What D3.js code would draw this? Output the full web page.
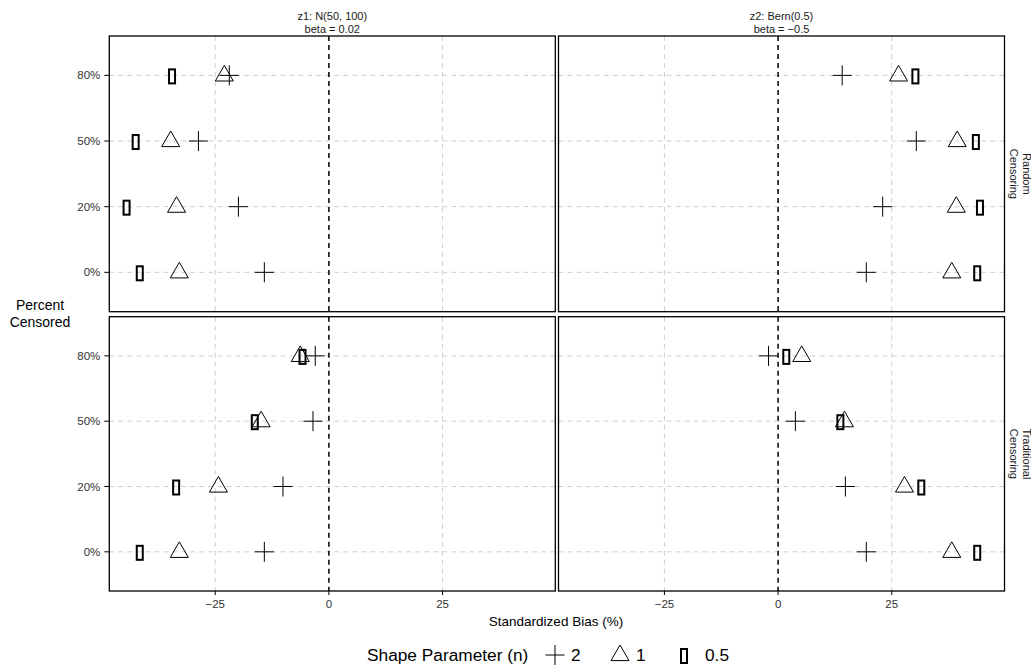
<!DOCTYPE html>
<html>
<head>
<meta charset="utf-8">
<script src="https://cdn.jsdelivr.net/npm/d3@7"></script>
<style>
  body { margin: 0; background: #fff; }
  svg { display: block; font-family: "Liberation Sans", Arial, sans-serif; }
</style>
</head>
<body>
<div id="chart"></div>
<script>
// Categories
const censorLevels = ["80%", "50%", "20%", "0%"];
const covariates = [
  ["z1: N(50, 100)", "beta = 0.02"],
  ["z2: Bern(0.5)", "beta = \u22120.5"]
];
const censorTypes = [["Random", "Censoring"], ["Traditional", "Censoring"]];
const shapeLevels = ["2", "1", "0.5"];
const xTicks = [-25, 0, 25];

// Standardized bias (%), order: 0%, 20%, 50%, 80%
const z1RandomN2 = [-14.2, -19.9, -28.7, -21.9];
const z1RandomN1 = [-32.9, -33.5, -34.8, -23.0];
const z1RandomN05 = [-41.6, -44.5, -42.5, -34.5];
const z1TradN2 = [-14.2, -10.1, -3.5, -3.0];
const z1TradN1 = [-32.9, -24.3, -14.9, -6.3];
const z1TradN05 = [-41.6, -33.6, -16.3, -5.8];
const z2RandomN2 = [19.4, 23.0, 30.4, 14.1];
const z2RandomN1 = [38.2, 39.2, 39.4, 26.5];
const z2RandomN05 = [43.8, 44.4, 43.5, 30.2];
const z2TradN2 = [19.4, 14.8, 3.8, -2.1];
const z2TradN1 = [38.2, 27.8, 14.6, 5.2];
const z2TradN05 = [43.8, 31.5, 13.7, 1.8];

const valueOrder = ["0%", "20%", "50%", "80%"];
const panelSeries = [
  [[z1RandomN2, z1RandomN1, z1RandomN05], [z2RandomN2, z2RandomN1, z2RandomN05]],
  [[z1TradN2, z1TradN1, z1TradN05], [z2TradN2, z2TradN1, z2TradN05]]
];

const W = 1031, H = 669;
const svg = d3.select('#chart').append('svg').attr('width', W).attr('height', H);

const panelW = 446;
const colX = [109.3, 558.5];
const rowY = [[36, 311.7], [316.7, 591]];

const x = d3.scaleLinear().domain([-48.3, 49.8]).range([0, panelW]);
const fmt = d => d < 0 ? '\u2212' + Math.abs(d) : String(d);

// marker shapes
function drawShape(sel, shape) {
  if (shape === '2') {
    sel.append('path').attr('d', 'M-9.5,0H9.5M0,-10V10')
      .attr('stroke', '#000').attr('stroke-width', 1).attr('fill', 'none');
  } else if (shape === '1') {
    sel.append('path').attr('d', 'M0,-10L9,5.6L-9,5.6Z')
      .attr('stroke', '#000').attr('stroke-width', 1).attr('fill', 'none');
  } else {
    sel.append('rect').attr('x', -3).attr('y', -6).attr('width', 6).attr('height', 14)
      .attr('stroke', '#000').attr('stroke-width', 2).attr('fill', 'none');
  }
}

rowY.forEach((ry, ri) => {
  const y = d3.scalePoint().domain(censorLevels).range(ry).padding(0.6);
  colX.forEach((cx, ci) => {
    const g = svg.append('g').attr('transform', `translate(${cx},0)`);

    // grid
    g.selectAll('.vg').data(xTicks.filter(t => t !== 0)).join('line')
      .attr('x1', d => x(d)).attr('x2', d => x(d))
      .attr('y1', ry[0]).attr('y2', ry[1])
      .attr('stroke', '#cfcfcf').attr('stroke-width', 1).attr('stroke-dasharray', '5,4');
    g.selectAll('.hg').data(censorLevels).join('line')
      .attr('x1', 0).attr('x2', panelW)
      .attr('y1', d => y(d)).attr('y2', d => y(d))
      .attr('stroke', '#cfcfcf').attr('stroke-width', 1).attr('stroke-dasharray', '5,4');

    // zero line
    g.append('line')
      .attr('x1', x(0)).attr('x2', x(0)).attr('y1', ry[0]).attr('y2', ry[1])
      .attr('stroke', '#000').attr('stroke-width', 1.5).attr('stroke-dasharray', '5,4');

    // points
    const rows = [];
    panelSeries[ri][ci].forEach((vals, si) => {
      vals.forEach((v, k) => rows.push({ shape: shapeLevels[si], level: valueOrder[k], value: v }));
    });
    g.selectAll('.pt').data(rows).join('g')
      .attr('transform', d => `translate(${x(d.value)},${y(d.level)})`)
      .each(function(d) { drawShape(d3.select(this), d.shape); });

    // border
    g.append('rect').attr('x', 0).attr('y', ry[0]).attr('width', panelW).attr('height', ry[1] - ry[0])
      .attr('fill', 'none').attr('stroke', '#000').attr('stroke-width', 1.3);

    // y axis on left column
    if (ci === 0) {
      const ya = g.append('g');
      censorLevels.forEach(l => {
        ya.append('line').attr('x1', -5).attr('x2', 0).attr('y1', y(l)).attr('y2', y(l))
          .attr('stroke', '#000').attr('stroke-width', 1);
        ya.append('text').attr('x', -9).attr('y', y(l)).attr('dy', '0.35em')
          .attr('text-anchor', 'end').attr('font-size', 11.5).attr('fill', '#333').text(l);
      });
    }
    // x axis on bottom row
    if (ri === 1) {
      xTicks.forEach(t => {
        g.append('line').attr('x1', x(t)).attr('x2', x(t)).attr('y1', ry[1]).attr('y2', ry[1] + 4)
          .attr('stroke', '#000').attr('stroke-width', 1);
        g.append('text').attr('x', x(t)).attr('y', ry[1] + 16.5)
          .attr('text-anchor', 'middle').attr('font-size', 11.5).attr('fill', '#333').text(fmt(t));
      });
    }
    // column strips
    if (ri === 0) {
      covariates[ci].forEach((s, k) => {
        g.append('text').attr('x', panelW / 2).attr('y', 20 + k * 13)
          .attr('text-anchor', 'middle').attr('font-size', 11).attr('fill', '#1a1a1a').text(s);
      });
    }
    // row strips
    if (ci === 1) {
      const cy = (ry[0] + ry[1]) / 2;
      const st = g.append('text')
        .attr('transform', `translate(${panelW + 9},${cy}) rotate(90)`)
        .attr('text-anchor', 'middle').attr('font-size', 11).attr('fill', '#1a1a1a');
      censorTypes[ri].forEach((s, k) => {
        st.append('tspan').attr('x', 0).attr('y', k === 0 ? -9 : 4).text(s);
      });
    }
  });
});

// axis titles
svg.append('text').attr('x', 556).attr('y', 626).attr('text-anchor', 'middle')
  .attr('font-size', 13.5).attr('fill', '#000').text('Standardized Bias (%)');
const yt = svg.append('text').attr('text-anchor', 'middle').attr('font-size', 14).attr('fill', '#000');
yt.append('tspan').attr('x', 40).attr('y', 310).text('Percent');
yt.append('tspan').attr('x', 40).attr('y', 327).text('Censored');

// legend
const leg = svg.append('g');
leg.append('text').attr('x', 367).attr('y', 661).attr('font-size', 17.3).attr('fill', '#000')
  .text('Shape Parameter (n)');
const legPos = [555, 620, 684];
shapeLevels.forEach((s, i) => {
  const lg = leg.append('g').attr('transform', `translate(${legPos[i]},655)`);
  drawShape(lg, s);
  leg.append('text').attr('x', legPos[i] + (i === 2 ? 21 : 16)).attr('y', 661)
    .attr('font-size', 17.3).attr('fill', '#000').text(s);
});
</script>
</body>
</html>
